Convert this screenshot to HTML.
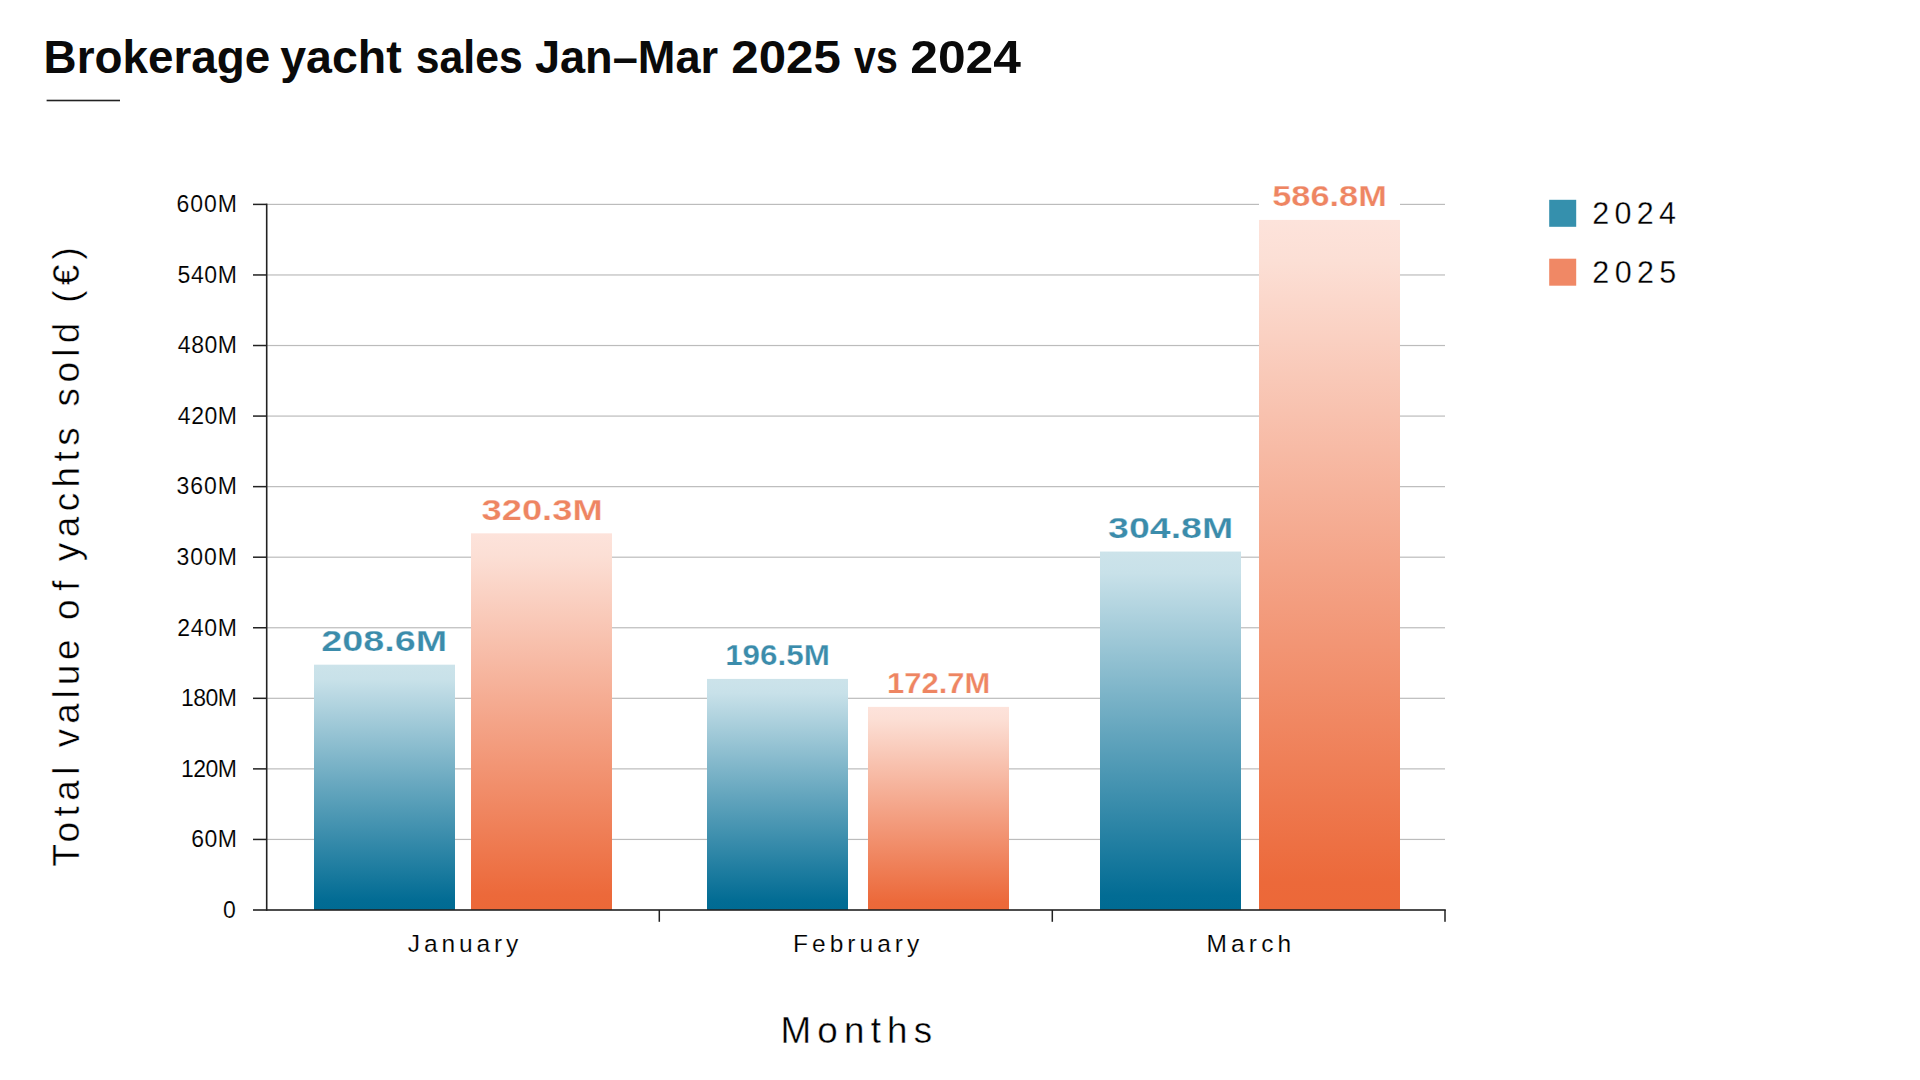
<!DOCTYPE html>
<html lang="en"><head><meta charset="utf-8"><title>Brokerage yacht sales Jan–Mar 2025 vs 2024</title>
<style>
html,body{margin:0;padding:0;background:#fff;}
body{width:1920px;height:1080px;overflow:hidden;font-family:"Liberation Sans",sans-serif;}
svg{display:block;position:absolute;left:0;top:0;}
text{font-family:"Liberation Sans",sans-serif;fill:#111;}
.t{font-weight:700;font-size:46.5px;fill:#0a0a0a;}
.yl{font-size:23px;fill:#000;stroke:#fff;stroke-width:0.12px;}
.xl{font-size:24.5px;fill:#000;stroke:#fff;stroke-width:0.15px;}
.ax{font-size:36.8px;fill:#000;stroke:#fff;stroke-width:0.4px;}
.lg{font-size:30.5px;fill:#000;stroke:#fff;stroke-width:0.3px;}
.vb{font-weight:700;font-size:29.4px;fill:#3b8cab;stroke:#fff;stroke-width:0.25px;}
.vo{font-weight:700;font-size:29.4px;fill:#ee8562;stroke:#fff;stroke-width:0.25px;}
</style></head><body>
<svg width="1920" height="1080" viewBox="0 0 1920 1080">
<defs>
<linearGradient id="gb" x1="0" y1="0" x2="0" y2="1">
<stop offset="0" stop-color="#cce3ea"/><stop offset="0.06" stop-color="#c8e1e9"/><stop offset="0.5" stop-color="#65a6be"/><stop offset="0.96" stop-color="#026c94"/><stop offset="1" stop-color="#006b93"/>
</linearGradient>
<linearGradient id="go" x1="0" y1="0" x2="0" y2="1">
<stop offset="0" stop-color="#fde3db"/><stop offset="0.06" stop-color="#fcdfd5"/><stop offset="0.5" stop-color="#f4a488"/><stop offset="0.96" stop-color="#ec693a"/><stop offset="1" stop-color="#ec6838"/>
</linearGradient>
</defs>
<rect width="1920" height="1080" fill="#fff"/>
<text class="t" y="73"><tspan x="43.60" textLength="226.57" lengthAdjust="spacingAndGlyphs">Brokerage</tspan> <tspan x="280.23" textLength="121.53" lengthAdjust="spacingAndGlyphs">yacht</tspan> <tspan x="415.83" textLength="106.83" lengthAdjust="spacingAndGlyphs">sales</tspan> <tspan x="534.90" textLength="183.20" lengthAdjust="spacingAndGlyphs">Jan–Mar</tspan> <tspan x="731.27" textLength="109.50" lengthAdjust="spacingAndGlyphs">2025</tspan> <tspan x="854.07" textLength="43.67" lengthAdjust="spacingAndGlyphs">vs</tspan> <tspan x="910.30" textLength="110.63" lengthAdjust="spacingAndGlyphs">2024</tspan></text>
<rect x="46.6" y="99.7" width="73.4" height="1.6" fill="#222"/>
<rect x="267" y="838.84" width="1178" height="1.2" fill="#bcbcbc"/>
<rect x="267" y="768.28" width="1178" height="1.2" fill="#bcbcbc"/>
<rect x="267" y="697.72" width="1178" height="1.2" fill="#bcbcbc"/>
<rect x="267" y="627.16" width="1178" height="1.2" fill="#bcbcbc"/>
<rect x="267" y="556.60" width="1178" height="1.2" fill="#bcbcbc"/>
<rect x="267" y="486.04" width="1178" height="1.2" fill="#bcbcbc"/>
<rect x="267" y="415.48" width="1178" height="1.2" fill="#bcbcbc"/>
<rect x="267" y="344.92" width="1178" height="1.2" fill="#bcbcbc"/>
<rect x="267" y="274.36" width="1178" height="1.2" fill="#bcbcbc"/>
<rect x="267" y="203.80" width="1178" height="1.2" fill="#bcbcbc"/>
<rect x="314" y="664.69" width="141" height="245.31" fill="url(#gb)"/>
<rect x="471" y="533.33" width="141" height="376.67" fill="url(#go)"/>
<rect x="707" y="678.92" width="141" height="231.08" fill="url(#gb)"/>
<rect x="868" y="706.90" width="141" height="203.10" fill="url(#go)"/>
<rect x="1100" y="551.56" width="141" height="358.44" fill="url(#gb)"/>
<rect x="1259" y="219.92" width="141" height="690.08" fill="url(#go)"/>
<rect x="1259" y="178" width="141" height="32" fill="#fff"/>
<rect x="265.9" y="203.60" width="1.6" height="707.20" fill="#222"/>
<rect x="253" y="909.2" width="1192.8" height="1.6" fill="#222"/>
<rect x="253" y="838.69" width="13.5" height="1.5" fill="#222"/>
<rect x="253" y="768.13" width="13.5" height="1.5" fill="#222"/>
<rect x="253" y="697.57" width="13.5" height="1.5" fill="#222"/>
<rect x="253" y="627.01" width="13.5" height="1.5" fill="#222"/>
<rect x="253" y="556.45" width="13.5" height="1.5" fill="#222"/>
<rect x="253" y="485.89" width="13.5" height="1.5" fill="#222"/>
<rect x="253" y="415.33" width="13.5" height="1.5" fill="#222"/>
<rect x="253" y="344.77" width="13.5" height="1.5" fill="#222"/>
<rect x="253" y="274.21" width="13.5" height="1.5" fill="#222"/>
<rect x="253" y="203.65" width="13.5" height="1.5" fill="#222"/>
<rect x="658.55" y="910" width="1.5" height="11.8" fill="#222"/>
<rect x="1051.55" y="910" width="1.5" height="11.8" fill="#222"/>
<rect x="1444.25" y="910" width="1.5" height="11.8" fill="#222"/>
<text class="yl" x="222.97" y="917.80" textLength="11.10" lengthAdjust="spacing">0</text>
<text class="yl" x="191.17" y="847.24" textLength="45.80" lengthAdjust="spacing">60M</text>
<text class="yl" x="180.90" y="776.68" textLength="56.07" lengthAdjust="spacing">120M</text>
<text class="yl" x="180.90" y="706.12" textLength="56.07" lengthAdjust="spacing">180M</text>
<text class="yl" x="177.17" y="635.56" textLength="59.80" lengthAdjust="spacing">240M</text>
<text class="yl" x="176.60" y="565.00" textLength="60.37" lengthAdjust="spacing">300M</text>
<text class="yl" x="176.60" y="494.44" textLength="60.37" lengthAdjust="spacing">360M</text>
<text class="yl" x="177.83" y="423.88" textLength="59.13" lengthAdjust="spacing">420M</text>
<text class="yl" x="177.83" y="353.32" textLength="59.13" lengthAdjust="spacing">480M</text>
<text class="yl" x="177.50" y="282.76" textLength="59.47" lengthAdjust="spacing">540M</text>
<text class="yl" x="176.60" y="212.20" textLength="60.37" lengthAdjust="spacing">600M</text>
<text class="xl" x="407.83" y="952.10" textLength="110.47" lengthAdjust="spacing">January</text>
<text class="xl" x="793.00" y="952.10" textLength="126.27" lengthAdjust="spacing">February</text>
<text class="xl" x="1206.58" y="952.10" textLength="84.55" lengthAdjust="spacing">March</text>
<text class="ax" x="780.53" y="1042.50" textLength="151.63" lengthAdjust="spacing">Months</text>
<text class="lg" x="1592.30" y="224.40" textLength="83.70" lengthAdjust="spacing">2024</text>
<text class="lg" x="1592.30" y="283.20" textLength="84.03" lengthAdjust="spacing">2025</text>
<text class="vb" x="321.33" y="651.25" textLength="125.75" lengthAdjust="spacingAndGlyphs">208.6M</text>
<text class="vo" x="481.50" y="520.00" textLength="121.17" lengthAdjust="spacingAndGlyphs">320.3M</text>
<text class="vb" x="725.17" y="665.00" textLength="104.67" lengthAdjust="spacingAndGlyphs">196.5M</text>
<text class="vo" x="887.00" y="693.00" textLength="103.43" lengthAdjust="spacingAndGlyphs">172.7M</text>
<text class="vb" x="1108.10" y="537.80" textLength="125.07" lengthAdjust="spacingAndGlyphs">304.8M</text>
<text class="vo" x="1272.25" y="206.00" textLength="114.58" lengthAdjust="spacingAndGlyphs">586.8M</text>
<text class="ax" transform="translate(79.4 865.4) rotate(-90)" y="0"><tspan x="-1.07" textLength="100.03" lengthAdjust="spacing">Total</tspan> <tspan x="118.23" textLength="107.73" lengthAdjust="spacing">value</tspan> <tspan x="245.33" textLength="39.50" lengthAdjust="spacing">of</tspan> <tspan x="304.20" textLength="133.95" lengthAdjust="spacing">yachts</tspan> <tspan x="459.03" textLength="83.60" lengthAdjust="spacing">sold</tspan> <tspan x="562.63" textLength="55.57" lengthAdjust="spacing">(€)</tspan></text>
<rect x="1549.2" y="199.8" width="27" height="27" fill="#3590ad"/>
<rect x="1549.2" y="258.7" width="27" height="27" fill="#f08865"/>
</svg>
</body></html>
